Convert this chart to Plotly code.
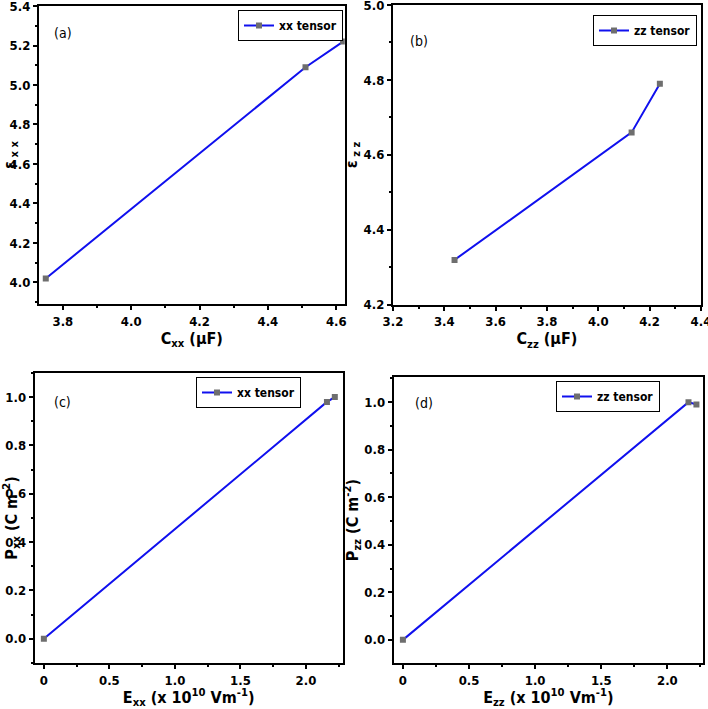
import plotly.graph_objects as go

# Data
cxx = [3.75, 4.51, 4.62]
eps_xx = [4.02, 5.09, 5.22]
czz = [3.44, 4.13, 4.24]
eps_zz = [4.32, 4.66, 4.79]
exx = [0.0, 2.16, 2.22]
pxx = [0.0, 0.98, 1.0]
ezz = [0.0, 2.16, 2.22]
pzz = [0.0, 1.0, 0.99]

# Tick labels
xa_ticks = ["3.8", "4.0", "4.2", "4.4", "4.6"]
ya_ticks = ["4.0", "4.2", "4.4", "4.6", "4.8", "5.0", "5.2", "5.4"]
xb_ticks = ["3.2", "3.4", "3.6", "3.8", "4.0", "4.2", "4.4"]
yb_ticks = ["4.2", "4.4", "4.6", "4.8", "5.0"]
xcd_ticks = ["0", "0.5", "1.0", "1.5", "2.0"]
ycd_ticks = ["0.0", "0.2", "0.4", "0.6", "0.8", "1.0"]

FONT = "DejaVu Sans Condensed, Liberation Sans Narrow, Arial Narrow, Liberation Sans"
BLUE = "#1010ee"
GRAY = "#6e6e6e"

fig = go.Figure()

def add(x, y, name, xa, ya, leg):
    fig.add_trace(go.Scatter(
        x=x, y=y, name=name, mode="lines+markers",
        line=dict(color=BLUE, width=2),
        marker=dict(symbol="square", size=6, color=GRAY),
        xaxis=xa, yaxis=ya, legend=leg, showlegend=True))

add(cxx, eps_xx, "xx tensor", "x", "y", "legend")
add(czz, eps_zz, "zz tensor", "x2", "y2", "legend2")
add(exx, pxx, "xx tensor", "x3", "y3", "legend3")
add(ezz, pzz, "zz tensor", "x4", "y4", "legend4")

tickfont = dict(family=FONT, size=13, color="black")
titlefont = dict(family=FONT, size=16, color="black", weight="bold")

def ax(domain, anchor, rng, labels, title, mdt, standoff):
    return dict(domain=domain, anchor=anchor, range=rng, automargin=False,
                tickvals=[float(s) for s in labels], ticktext=["<b>%s</b>" % s for s in labels],
                ticklabeloverflow="allow",
                showgrid=False, zeroline=False, showline=True, linecolor="black",
                linewidth=2, mirror=True, ticks="outside", ticklen=4, tickwidth=1.5,
                tickcolor="black", tickfont=tickfont,
                minor=dict(ticks="outside", ticklen=2, dtick=mdt, tickcolor="black", showgrid=False),
                title=dict(text=title, font=titlefont, standoff=standoff))

fig.update_layout(
    width=708, height=709, margin=dict(l=0, r=0, t=0, b=0, autoexpand=False),
    paper_bgcolor="white", plot_bgcolor="white",
    xaxis=ax([0.055, 0.487], "y", [3.73, 4.625], xa_ticks, "C<sub>xx</sub> (μF)", 0.1, 3),
    yaxis=ax([0.571, 0.9915], "x", [3.89, 5.40], ya_ticks, "ε<sub> x x</sub>", 0.1, 2),
    xaxis2=ax([0.555, 0.990], "y2", [3.2, 4.4], xb_ticks, "C<sub>zz</sub> (μF)", 0.1, 3),
    yaxis2=ax([0.570, 0.993], "x2", [4.2, 5.0], yb_ticks, "ε<sub> z z</sub>", 0.1, 2),
    xaxis3=ax([0.049, 0.484], "y3", [-0.07, 2.28], xcd_ticks, "E<sub>xx</sub> (x 10<sup>10</sup> Vm<sup>-1</sup>)", 0.25, 3),
    yaxis3=ax([0.065, 0.474], "x3", [-0.1, 1.1], ycd_ticks, "P<sub>xx</sub> (C m<sup>-2</sup>)", 0.1, 2),
    xaxis4=ax([0.556, 0.993], "y4", [-0.07, 2.27], xcd_ticks, "E<sub>zz</sub> (x 10<sup>10</sup> Vm<sup>-1</sup>)", 0.25, 3),
    yaxis4=ax([0.065, 0.468], "x4", [-0.097, 1.105], ycd_ticks, "P<sub>zz</sub> (C m<sup>-2</sup>)", 0.1, 2),
)
for k in ["xaxis3", "xaxis4", "yaxis3", "yaxis4"]:
    fig.layout[k].minor.tick0 = 0

legfont = dict(family=FONT, size=12, color="black", weight="bold")
def leg(x, y):
    return dict(x=x, y=y, xref="paper", yref="paper", xanchor="right", yanchor="top",
                bordercolor="black", borderwidth=1, bgcolor="white", font=legfont,
                itemwidth=30, tracegroupgap=0)

fig.update_layout(
    legend=leg(343/708, 1 - 10/709),
    legend2=leg(697/708, 1 - 15/709),
    legend3=leg(301/708, 1 - 377/709),
    legend4=leg(660/708, 1 - 381/709),
)

annfont = dict(family=FONT, size=14, color="black")
for txt, xr, yr, axx, ayy in [("(a)", "x domain", "y domain", 0.08, 0.91),
                              ("(b)", "x2 domain", "y2 domain", 0.085, 0.88),
                              ("(c)", "x3 domain", "y3 domain", 0.09, 0.90),
                              ("(d)", "x4 domain", "y4 domain", 0.097, 0.91)]:
    fig.add_annotation(text=txt, x=axx, y=ayy, xref=xr, yref=yr,
                       showarrow=False, font=annfont, xanchor="center", yanchor="middle")

fig.write_html("out.html")
